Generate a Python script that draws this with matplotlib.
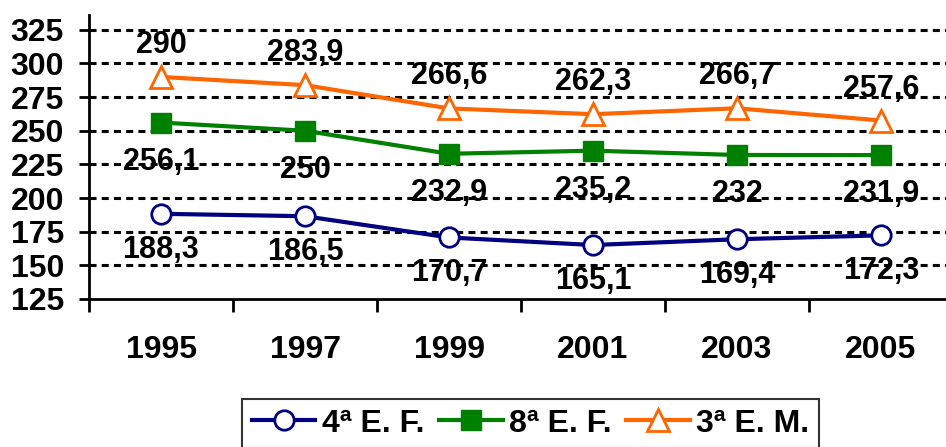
import matplotlib.pyplot as plt

# dados
anos = ["1995", "1997", "1999", "2001", "2003", "2005"]
serie_4ef = [188.3, 186.5, 170.7, 165.1, 169.4, 172.3]
serie_8ef = [256.1, 250, 232.9, 235.2, 232, 231.9]
serie_3em = [290, 283.9, 266.6, 262.3, 266.7, 257.6]
rotulos = ["4ª E. F.", "8ª E. F.", "3ª E. M."]
yticks = [125, 150, 175, 200, 225, 250, 275, 300, 325]

plt.rcParams['font.family'] = ['Liberation Sans', 'DejaVu Sans']
plt.rcParams['font.weight'] = 'bold'

fig = plt.figure(figsize=(9.46, 4.47), dpi=100)
W, H = 946, 447
ax = fig.add_axes([89 / W, (H - 299) / H, (953 - 89) / W, (299 - 15) / H])

x = list(range(len(anos)))

l1, = ax.plot(x, serie_4ef, color="#000080", lw=3, marker="o", ms=14,
              mfc="white", mec="#000080", mew=2, zorder=3)
l2, = ax.plot(x, serie_8ef, color="#008000", lw=3, marker="s", ms=14,
              mfc="#008000", mec="#008000", zorder=3)
l3, = ax.plot(x, serie_3em, color="#FF6600", lw=3, marker="^", ms=16,
              mfc="white", mec="#FF6600", mew=2, zorder=3)

def fmt(v):
    return f"{v:g}".replace(".", ",")

# rótulos de dados
for serie, dy in [(serie_3em, 32), (serie_8ef, -39), (serie_4ef, -36)]:
    for i in x:
        ax.annotate(fmt(serie[i]), (i, serie[i]), xytext=(0, dy),
                    textcoords="offset pixels", ha="center", va="center",
                    fontsize=22, fontweight="bold")

ax.set_xlim(-0.5, 5.5)
ax.set_ylim(125, 336)
ax.set_yticks(yticks)
ax.tick_params(axis="y", labelsize=23, length=7, width=2, pad=11)

# marcas entre categorias, rótulos no centro
ax.set_xticks([i + 0.5 for i in range(-1, len(anos))])
ax.set_xticklabels([])
ax.set_xticks(x, minor=True)
ax.set_xticklabels(anos, minor=True)
ax.tick_params(axis="x", which="major", length=9, width=2, direction="out")
ax.tick_params(axis="x", which="minor", length=0, pad=26, labelsize=23)

for g in yticks[1:]:
    ax.axhline(g, color="black", lw=2.2, ls=(0, (2.3, 1.7)), zorder=1)

ax.spines["top"].set_visible(False)
ax.spines["right"].set_visible(False)
ax.spines["left"].set_linewidth(2)
ax.spines["bottom"].set_linewidth(2)

leg = fig.legend([l1, l2, l3], rotulos, loc="upper left",
                 bbox_to_anchor=(242 / W, (H - 399) / H), ncol=3,
                 borderaxespad=0, frameon=True, fancybox=False,
                 edgecolor="black", handlelength=2, handletextpad=0.2,
                 columnspacing=0.45, borderpad=0.3,
                 prop={"weight": "bold", "size": 23})
leg.get_frame().set_linewidth(1.5)

plt.savefig("out.png", dpi=100)
